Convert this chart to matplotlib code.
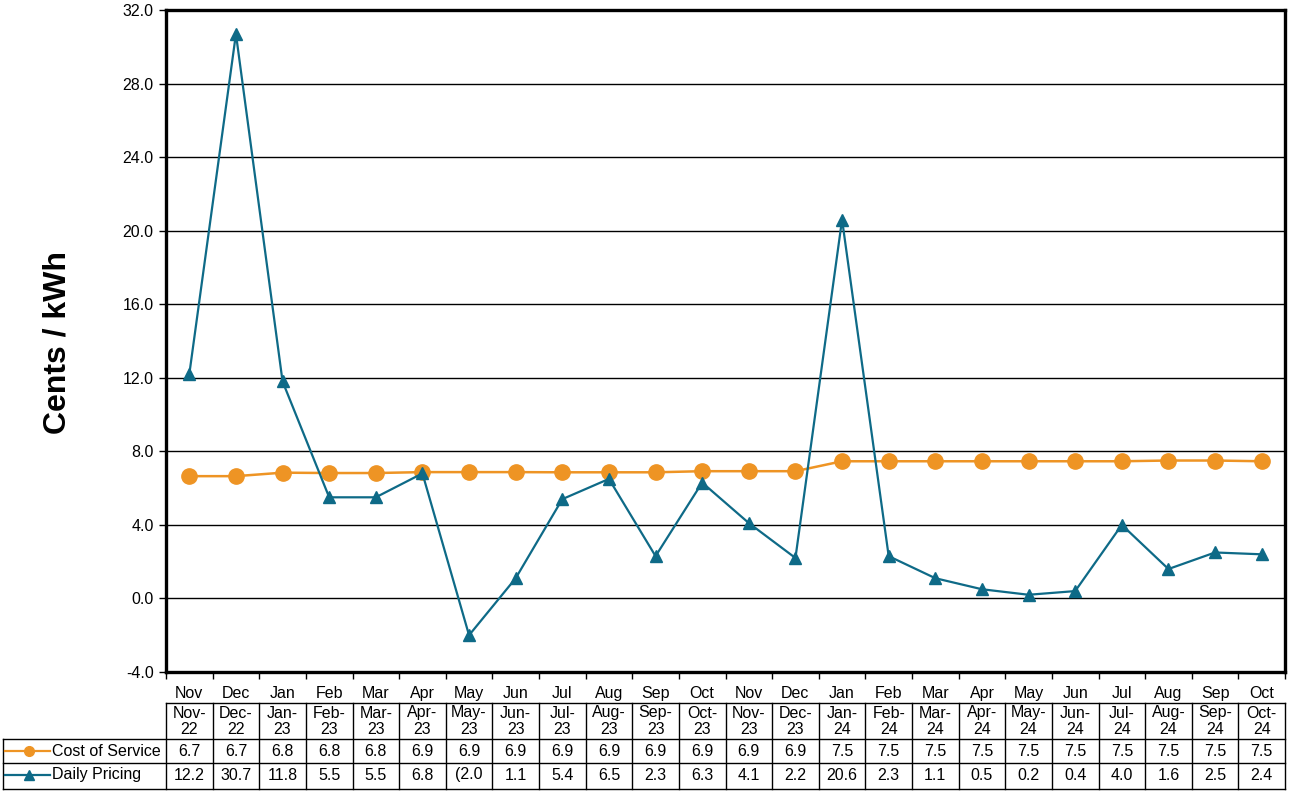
import numpy as np
import matplotlib
matplotlib.use("Agg")
import matplotlib.pyplot as plt

plt.rcParams.update({
    "font.family": ["Liberation Sans", "DejaVu Sans"],
    "font.size": 11.5,
})

# data
months = ["Nov", "Dec", "Jan", "Feb", "Mar", "Apr", "May", "Jun", "Jul", "Aug", "Sep", "Oct",
          "Nov", "Dec", "Jan", "Feb", "Mar", "Apr", "May", "Jun", "Jul", "Aug", "Sep", "Oct"]
years = ["22", "22", "23", "23", "23", "23", "23", "23", "23", "23", "23", "23",
         "23", "23", "24", "24", "24", "24", "24", "24", "24", "24", "24", "24"]
cost_of_service = [6.65, 6.65, 6.84, 6.82, 6.82, 6.87, 6.87, 6.87, 6.86, 6.86, 6.86, 6.92,
                   6.92, 6.92, 7.46, 7.46, 7.46, 7.46, 7.46, 7.46, 7.46, 7.50, 7.50, 7.46]
daily_pricing = [12.2, 30.7, 11.8, 5.5, 5.5, 6.8, -2.0, 1.1, 5.4, 6.5, 2.3, 6.3,
                 4.1, 2.2, 20.6, 2.3, 1.1, 0.5, 0.2, 0.4, 4.0, 1.6, 2.5, 2.4]
y_ticks = [-4, 0, 4, 8, 12, 16, 20, 24, 28, 32]

ORANGE = "#EE9424"
BLUE = "#0E6A87"

W, H = 1289, 792
fig = plt.figure(figsize=(W / 100, H / 100), dpi=100)

# plot area in pixels
L, R, T, B = 166, 1285, 10, 672
ax = fig.add_axes([L / W, 1 - B / H, (R - L) / W, (B - T) / H])

n = len(months)
x = np.arange(n)
ax.plot(x, cost_of_service, color=ORANGE, lw=1.8, marker="o", ms=11, zorder=3,
        clip_on=False)
ax.plot(x, daily_pricing, color=BLUE, lw=1.6, marker="^", ms=8, zorder=4,
        clip_on=False)

ax.set_xlim(-0.5, n - 0.5)
ax.set_ylim(-4, 32)
ax.set_yticks(y_ticks)
ax.set_yticklabels([f"{v:.1f}" for v in y_ticks], fontsize=11.5)
ax.yaxis.grid(True, color="black", lw=1)
ax.set_axisbelow(True)

ax.set_xticks(np.arange(-0.5, n, 1))
ax.set_xticklabels([])
ax.set_xticks(x, minor=True)
ax.set_xticklabels(months, minor=True, fontsize=11.5)
ax.tick_params(axis="x", which="major", length=5, width=1, direction="out")
ax.tick_params(axis="x", which="minor", length=0, pad=10)
ax.tick_params(axis="y", length=5, width=1, direction="out", pad=4)

for side in ["left", "bottom", "top", "right"]:
    ax.spines[side].set_linewidth(2.4)

fig.text(58 / W, 1 - 342 / H, "Cents / kWh", rotation=90, fontsize=23,
         fontweight="bold", ha="center", va="center")

# data table drawn in pixel space
ov = fig.add_axes([0, 0, 1, 1], facecolor="none")
ov.set_xlim(0, W)
ov.set_ylim(H, 0)
ov.axis("off")

cw = (R - L) / n
rows = [703, 739, 763, 789]
left_col = 3
lk = dict(color="black", lw=1)
ov.plot([L, R], [rows[0], rows[0]], **lk)
for yy in rows[1:]:
    ov.plot([left_col, R], [yy, yy], **lk)
ov.plot([left_col, left_col], [rows[1], rows[3]], **lk)
for i in range(n + 1):
    xx = L + i * cw
    ov.plot([xx, xx], [rows[0], rows[3]], **lk)


def fmt(v):
    return f"({abs(v):.1f}" if v < 0 else f"{v:.1f}"


for i in range(n):
    cx = L + (i + 0.5) * cw
    ov.text(cx, 713, f"{months[i]}-", ha="center", va="center")
    ov.text(cx, 729, years[i], ha="center", va="center")
    ov.text(cx, 751, fmt(cost_of_service[i]), ha="center", va="center")
    ov.text(cx, 775, fmt(daily_pricing[i]), ha="center", va="center")

# legend keys
for yc, label, color, mk, ms in [(751, "Cost of Service", ORANGE, "o", 7),
                                 (775, "Daily Pricing", BLUE, "^", 6.5)]:
    ov.plot([5, 50], [yc, yc], color=color, lw=1.6)
    ov.plot([29], [yc], color=color, marker=mk, ms=ms)
    ov.text(52, yc, label, ha="left", va="center")

fig.savefig("out.png", dpi=100)
